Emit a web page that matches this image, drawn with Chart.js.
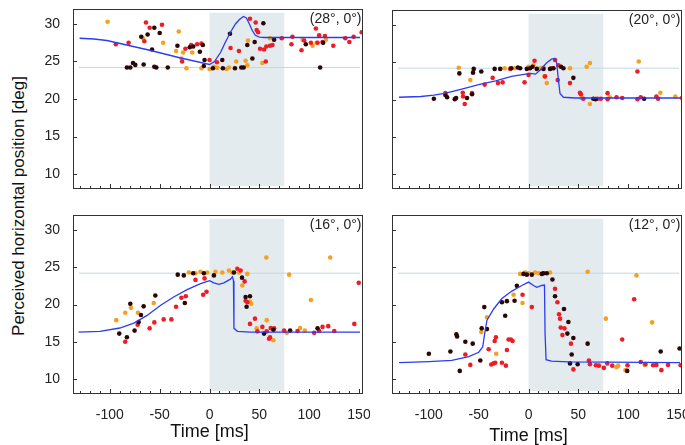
<!DOCTYPE html>
<html>
<head>
<meta charset="utf-8">
<script src="https://cdn.jsdelivr.net/npm/chart.js@4.4.1/dist/chart.umd.min.js"></script>
<style>
  body { margin: 0; width: 685px; height: 445px; background: #fff; position: relative; overflow: hidden; font-family: "Liberation Sans", Arial, sans-serif; }
  canvas { position: absolute; }
  #ytitle { position: absolute; left: 19px; top: 206px; transform: translate(-50%, -50%) rotate(-90deg); font-size: 17px; white-space: nowrap; color: #111; }
</style>
</head>
<body>
<div id="ytitle">Perceived horizontal position [deg]</div>
<canvas id="c28" width="370" height="200" style="left:0;top:0"></canvas>
<canvas id="c20" width="315" height="200" style="left:370px;top:0"></canvas>
<canvas id="c16" width="370" height="245" style="left:0;top:200px"></canvas>
<canvas id="c12" width="315" height="245" style="left:370px;top:200px"></canvas>
<script>
// Axis ranges / reference values
const X_MIN = -137, X_MAX = 154, Y_MIN = 8, Y_MAX = 32;
const shadeFrom = 0, shadeTo = 75, shadeLow = 8.4, shadeHigh = 31.5;
const refLevel = 24.2, refFrom = -131, refTo = 151;

// (28°, 0°)
const p28Model = [[-130.4,28.1],[-116,28.0],[-103,27.8],[-60,26.5],[-30,25.5],[0,24.6],[5,25.0],[11,26.2],[16,27.6],[21,28.9],[26,30.0],[30,30.6],[34,31.0],[37,30.8],[40,30.0],[43,29.1],[46,28.5],[50,28.25],[55,28.2],[151,28.2]];
const p28Black = [[-82.9,24.2],[-79.5,24.2],[-76.8,24.8],[-74.5,24.55],[-66.1,24.6],[-55.4,24.3],[-53.4,24.2],[-41.9,24.2],[-68.5,28.3],[-62.1,28.6],[-55.4,29.5],[-50,28.8],[-57.7,26.6],[-32.2,27.1],[-19.8,26.9],[-16.4,27.0],[-9.7,26.3],[-6.7,27.2],[-5,25.2],[-5.7,24.4],[3.4,24.1],[13.4,24.1],[12.8,25.2],[20.5,28.7],[25.5,24.1],[31.9,24.2],[34.2,24.2],[37.9,27.2],[43,25.4],[45.3,27.6],[54,30.1],[64.8,27.9],[96.6,27.3],[111,24.2],[114,27.5]];
const p28Red = [[-94,27.3],[-81.2,27.5],[-63.8,30.2],[-60.1,29.5],[-65.4,27.7],[-47.7,29.9],[-27.5,25.0],[-24.2,26.7],[-18.5,27.2],[-12.4,27.3],[-8.1,27.4],[0,25.2],[7.4,24.9],[21.1,26.8],[29.5,26.4],[40.6,30.7],[46.3,30.2],[47.3,29.2],[48.7,28.9],[50.7,26.7],[54.7,26.6],[57,27.0],[60.7,27.1],[63.1,27.2],[56.4,25.0],[72.5,28.1],[82.2,27.3],[83.2,28.3],[92.3,26.5],[95,27.8],[101.7,27.5],[106.7,29.4],[110,28.5],[108.4,27.5],[113.4,27.6],[115.8,28.4],[124.2,27.1],[136.2,28.1],[140.3,27.6],[144.6,28.3],[152.7,28.9]];
const p28Orange = [[-102.3,30.3],[-66.8,28.1],[-46.6,27.5],[-30.9,29.0],[-33.6,26.4],[-28.2,25.4],[-26.5,26.2],[-17.4,26.2],[-23.2,24.1],[-8.1,24.1],[0,24.0],[4.4,24.3],[7.7,24.15],[17.1,24.0],[19.5,24.2],[26.8,25.0],[36.2,25.1],[38.6,27.8],[37.9,24.5],[53,24.8],[60.7,28.1],[93.3,27.9],[103.4,27.1],[107.4,27.5],[116.8,27.9]];

// (20°, 0°)
const p20Model = [[-130,20.3],[-108,20.4],[-95,20.6],[-83,20.85],[-67,21.4],[-50,22.0],[-33,22.5],[-17,23.1],[-3,23.4],[2,23.5],[7,23.4],[12,24.0],[18,24.9],[23,25.4],[26.5,25.5],[28.3,24.9],[30,22.6],[31.6,20.8],[35,20.3],[47,20.2],[152,20.2]];
const p20Black = [[-95,20.1],[-83.4,20.6],[-81.7,20.3],[-74,20.05],[-72.7,20.2],[-69.4,23.5],[-61.7,20.2],[-55.7,23.6],[-55,24.1],[-56.7,20.7],[-47.4,23.75],[-34,24.1],[-28.4,24.1],[-17.4,24.2],[-10.7,24.3],[-8.4,24.2],[-1.7,24.1],[1.6,24.2],[4,24.4],[8.3,24.1],[15,24.1],[21.6,24.1],[25,24.2],[32.6,24.4],[35,24.2],[45,22.9],[65,20.1],[67.3,20.05],[116,20.1]];
const p20Red = [[-83.4,20.85],[-66,20.9],[-65.7,20.4],[-64,19.4],[-56.7,20.85],[-44,22.0],[-36,22.9],[-30.7,22.2],[-26,22.3],[-18.4,24.1],[-4,22.3],[0,23.3],[6,25.2],[16.6,23.1],[23.3,24.2],[26.6,25.3],[30,24.6],[29.3,22.6],[41.6,22.2],[51.6,20.9],[52.6,20.7],[55,20.1],[69.3,20.1],[72.6,20.1],[79.3,20.85],[79.3,20.05],[88.3,20.3],[94,20.2],[109.3,23.75],[109.3,20.05],[112.6,20.3],[128.3,20.4],[130,20.1],[154,20.2]];
const p20Orange = [[-70,24.25],[-58.4,22.6],[-24,24.2],[-14,24.2],[0,24.4],[5,24.6],[11.6,24.2],[15,24.3],[18.3,22.2],[16,23.1],[41.6,24.2],[58.3,24.4],[61.6,24.9],[61.6,19.4],[53.3,20.2],[81.6,20.3],[110.6,25.1],[132.3,20.9],[147.3,20.4]];

// (16°, 0°)
const p16Model = [[-131.5,16.3],[-110,16.4],[-90,16.85],[-76,17.5],[-63,18.5],[-49,19.9],[-36,21.0],[-22.5,22.0],[-9,22.8],[0,23.2],[4.4,22.9],[9.4,22.7],[14.4,22.9],[21,23.4],[23,23.7],[24,23.2],[24.5,16.8],[28,16.4],[41,16.3],[151,16.3]];
const p16Black = [[-90.6,16.1],[-82.9,15.6],[-79.5,20.1],[-75.2,16.5],[-71.1,17.65],[-68.8,18.6],[-66.1,19.75],[-54.4,21.2],[-31.9,24.0],[-25.8,23.9],[-24.8,20.2],[-16.4,24.2],[-5.7,24.2],[4.4,23.9],[24.5,24.3],[32.6,23.6],[36.2,21.0],[37.2,19.7],[40.6,21.1],[54.7,16.1],[64.1,16.6],[80.9,16.5],[108.4,16.8]];
const p16Red = [[-84.6,15.0],[-72.1,17.3],[-60.1,16.8],[-55.4,17.6],[-46,18.0],[-38.3,18.0],[-33.6,19.7],[-28.2,20.9],[-23.8,21.1],[-14.1,23.3],[-6.4,21.3],[-3,21.7],[-5,23.5],[27.9,24.8],[31.2,24.55],[35.2,23.1],[36.2,20.5],[37.9,20.3],[40.6,17.4],[45.6,18.1],[48,16.4],[53,17.0],[57.4,16.4],[59.7,15.4],[60.7,15.6],[61.4,16.85],[64.8,16.8],[74.8,16.5],[88.3,16.45],[105,16.2],[110,16.45],[113.4,17.0],[119.1,17.1],[125.2,16.45],[145.3,17.4],[149.7,22.9]];
const p16Orange = [[-93.6,17.9],[-84.6,18.9],[-78.9,19.55],[-71.8,18.9],[-56,20.2],[-20.8,24.3],[-14.1,24.2],[-9.1,24.4],[-2.3,24.3],[6,24.4],[12.8,24.3],[19.5,24.55],[22.8,24.3],[29.5,24.3],[32.9,22.55],[37.9,24.1],[40.6,20.4],[41.9,20.1],[47.3,16.8],[57.4,17.9],[57,26.3],[64.1,15.2],[77.5,16.2],[79.9,24.0],[90.9,16.85],[95.6,16.5],[101.7,20.6],[121.1,26.3]];

// (12°, 0°)
const p12Model = [[-130,12.2],[-100,12.35],[-77,12.5],[-60,13.0],[-50,13.6],[-46,14.3],[-44,16.1],[-41.7,17.9],[-35,19.4],[-26.7,20.8],[-16.7,21.8],[-6.7,22.55],[0,23.0],[5,22.55],[8.3,22.3],[13.3,22.55],[16,22.6],[16.6,16.1],[17.6,12.6],[23,12.4],[40,12.3],[152,12.2]];
const p12Black = [[-100,13.4],[-78.4,13.7],[-72.4,16.0],[-71.7,15.7],[-69,11.1],[-63.4,15.0],[-56,14.75],[-48.4,12.5],[-44.4,19.65],[-41.7,16.7],[-47,16.8],[-26.7,20.3],[-21.7,20.45],[-23.4,18.5],[-14,20.5],[-11.7,22.5],[-5,24.1],[-1.7,24.0],[3.3,24.0],[13.3,24.1],[15,24.2],[18.3,24.2],[24,23.35],[26.6,21.1],[35.6,19.4],[40,17.65],[39,16.1],[45,15.5],[43.3,13.3],[41.6,12.1],[49.3,12.0],[59.3,14.75],[99,11.1],[132.6,13.7],[151.6,14.1]];
const p12Red = [[-63.4,13.3],[-58.4,11.9],[-32.7,15.6],[-34,15.1],[-37.4,11.95],[-35,12.1],[-33.4,12.2],[-40,14.0],[-26.7,12.2],[-22.7,11.8],[-21.7,13.9],[-20,15.3],[-17.7,15.3],[-16,15.1],[-6,21.3],[3.3,19.65],[26.6,22.1],[29,20.3],[30.6,18.7],[31.6,18.1],[32.3,16.9],[34,15.9],[36,16.8],[42.6,14.75],[45,11.3],[60.6,12.5],[61.6,12.0],[67.6,11.85],[70.6,11.8],[75.6,11.5],[79,12.1],[84,11.8],[94,15.3],[99.3,11.85],[106,20.7],[112.6,12.3],[117.3,12.0],[125,11.85],[128.3,11.9],[133.3,11.2],[140,11.9],[152.6,11.85]];
const p12Orange = [[-47.4,16.3],[-41.7,18.3],[-32.4,13.4],[-15,21.3],[-6,20.2],[-8.4,24.1],[-3.4,24.3],[0,24.2],[6.6,24.3],[10,24.2],[21.6,24.3],[59.3,24.4],[77.6,18.1],[88.3,11.6],[90,11.8],[97.3,11.2],[108.3,23.9],[116.6,11.9],[124,17.6]];

Chart.defaults.font.family = '"Liberation Sans", Arial, sans-serif';
Chart.defaults.font.size = 14;
Chart.defaults.color = '#222';

const pts = arr => arr.map(([x, y]) => ({ x, y }));

// shading, frame, inward ticks, panel label, x title
const panelDecor = {
  id: 'panelDecor',
  beforeDatasetsDraw(chart) {
    const { ctx, scales: { x, y } } = chart;
    const x0 = x.getPixelForValue(shadeFrom), x1 = x.getPixelForValue(shadeTo);
    const y0 = y.getPixelForValue(shadeHigh), y1 = y.getPixelForValue(shadeLow);
    ctx.save();
    ctx.fillStyle = '#e4ebee';
    ctx.fillRect(x0, y0, x1 - x0, y1 - y0);
    ctx.restore();
  },
  afterDatasetsDraw(chart, args, opts) {
    const { ctx, chartArea: a, scales: { x, y } } = chart;
    ctx.save();
    ctx.strokeStyle = '#333';
    ctx.lineWidth = 1;
    ctx.strokeRect(a.left + 0.5, a.top + 0.5, a.right - a.left - 1, a.bottom - a.top - 1);
    ctx.beginPath();
    x.ticks.forEach(t => {
      if (t.value % 10 !== 0) return;
      const px = Math.round(x.getPixelForValue(t.value)) + 0.5;
      const len = t.value % 50 === 0 ? 5 : 3;
      ctx.moveTo(px, a.bottom);
      ctx.lineTo(px, a.bottom - len);
    });
    y.ticks.forEach(t => {
      if (t.value % 5 !== 0) return;
      const py = Math.round(y.getPixelForValue(t.value)) + 0.5;
      ctx.moveTo(a.left, py);
      ctx.lineTo(a.left + 4, py);
    });
    ctx.stroke();

    ctx.fillStyle = '#222';
    ctx.font = '14px "Liberation Sans", Arial, sans-serif';
    ctx.textAlign = 'right';
    ctx.textBaseline = 'top';
    ctx.fillText(opts.label, a.right - 1.5, a.top + 3);

    if (opts.xTitle) {
      ctx.font = '18px "Liberation Sans", Arial, sans-serif';
      ctx.textAlign = 'center';
      ctx.textBaseline = 'middle';
      ctx.fillStyle = '#111';
      ctx.fillText(opts.xTitle, x.getPixelForValue(0), opts.xTitleY);
    }
    ctx.restore();
  }
};

function makePanel(id, label, model, black, red, orange, o) {
  const dot = (data, color, order) => ({
    data: pts(data), backgroundColor: color, borderWidth: 0,
    pointRadius: 2.3, pointHoverRadius: 2.3, order
  });
  new Chart(document.getElementById(id), {
    type: 'scatter',
    data: {
      datasets: [
        { data: pts(model), showLine: true, borderColor: '#2b3cf2', borderWidth: 1.3, pointRadius: 0, tension: 0, order: 0 },
        dot(orange, '#f5a01e', 3),
        dot(red, '#ee1c24', 2),
        dot(black, '#2b0606', 1),
        { data: [{ x: refFrom, y: refLevel }, { x: refTo, y: refLevel }], showLine: true, borderColor: '#c3d9e2', borderWidth: 1, pointRadius: 0, order: 5 }
      ]
    },
    options: {
      responsive: false,
      animation: false,
      events: [],
      layout: { padding: { top: o.padTop, right: o.padRight, left: 0, bottom: 0 } },
      plugins: {
        legend: { display: false },
        tooltip: { enabled: false },
        panelDecor: { label, xTitle: o.xTitle, xTitleY: o.xTitleY }
      },
      scales: {
        x: {
          type: 'linear', min: X_MIN, max: X_MAX,
          grid: { display: false },
          border: { display: false },
          ticks: {
            display: o.xLabels, stepSize: 10, includeBounds: false, autoSkip: false,
            maxRotation: 0, padding: 5,
            callback: v => (v % 50 === 0 ? v : '')
          },
          afterFit: s => { s.height = o.xHeight; s.paddingLeft = 0; s.paddingRight = 0; }
        },
        y: {
          type: 'linear', min: Y_MIN, max: Y_MAX,
          grid: { display: false },
          border: { display: false },
          ticks: { display: o.yLabels, stepSize: 5, includeBounds: false, padding: 5 },
          afterFit: s => { s.width = o.yWidth; s.paddingTop = 0; s.paddingBottom = 0; }
        }
      }
    },
    plugins: [panelDecor]
  });
}

makePanel('c28', '(28°, 0°)', p28Model, p28Black, p28Red, p28Orange,
  { padTop: 9, padRight: 7, xHeight: 11, yWidth: 73, xLabels: false, yLabels: true });
makePanel('c20', '(20°, 0°)', p20Model, p20Black, p20Red, p20Orange,
  { padTop: 10, padRight: 3, xHeight: 11, yWidth: 22, xLabels: false, yLabels: false });
makePanel('c16', '(16°, 0°)', p16Model, p16Black, p16Red, p16Orange,
  { padTop: 15, padRight: 7, xHeight: 51, yWidth: 73, xLabels: true, yLabels: true, xTitle: 'Time [ms]', xTitleY: 232 });
makePanel('c12', '(12°, 0°)', p12Model, p12Black, p12Red, p12Orange,
  { padTop: 15, padRight: 3, xHeight: 51, yWidth: 22, xLabels: true, yLabels: false, xTitle: 'Time [ms]', xTitleY: 236 });
</script>
</body>
</html>
